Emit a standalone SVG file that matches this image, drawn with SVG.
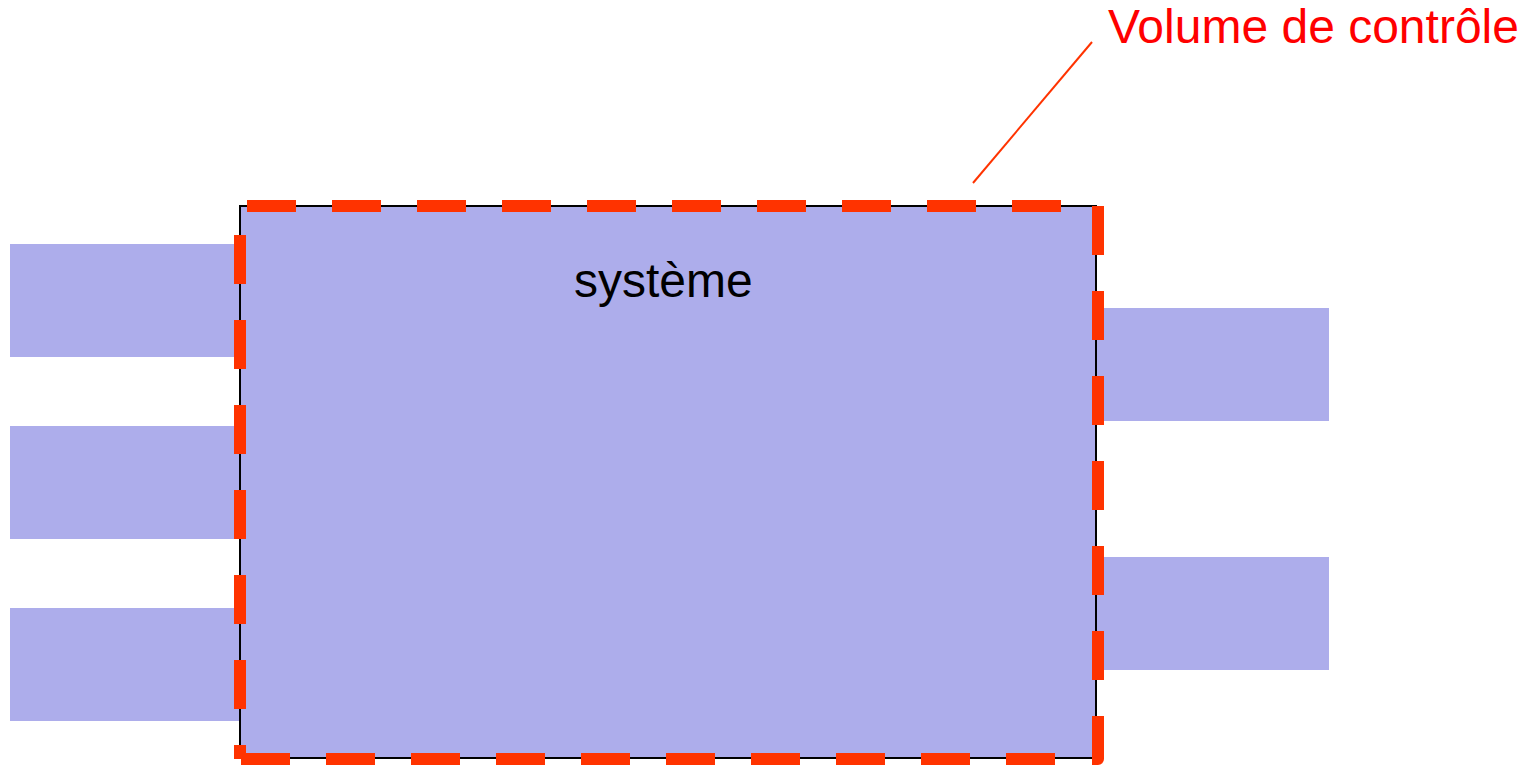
<svg xmlns="http://www.w3.org/2000/svg" width="1539" height="766" viewBox="0 0 1539 766">
  <style>
    .fluid { fill: #ADADEB; }
    .cv { fill: none; stroke: #FF3300; stroke-width: 12; stroke-dasharray: 49 36; stroke-linejoin: round; }
    .label { font-family: "Liberation Sans", Arial, sans-serif; font-size: 48px; }
  </style>
  <rect width="1539" height="766" fill="#FFFFFF"/>

  <!-- inlet pipes -->
  <g id="inlet-1"><rect class="fluid" x="10" y="244" width="232" height="113"/></g>
  <g id="inlet-2"><rect class="fluid" x="10" y="426" width="232" height="113"/></g>
  <g id="inlet-3"><rect class="fluid" x="10" y="608" width="232" height="113"/></g>

  <!-- outlet pipes -->
  <g id="outlet-1"><rect class="fluid" x="1094" y="308" width="235" height="113"/></g>
  <g id="outlet-2"><rect class="fluid" x="1094" y="557" width="235" height="113"/></g>

  <!-- the system -->
  <g id="systeme">
    <rect class="fluid" x="240" y="206" width="856" height="552" stroke="#000000" stroke-width="2"/>
    <text class="label" x="574" y="297" fill="#000000">système</text>
  </g>

  <!-- control volume boundary -->
  <g id="volume-de-controle">
    <path class="cv" d="M247 206 H1062"/>
    <path class="cv" d="M1098 206 V759 H1091"/>
    <path class="cv" d="M241 759 H1055"/>
    <path class="cv" d="M240 235 V759"/>
  </g>

  <!-- leader line to the label -->
  <g id="connectors">
    <line x1="1092" y1="42" x2="973" y2="183" stroke="#FF3300" stroke-width="2"/>
  </g>

  <g id="label-volume">
    <text class="label" x="1108" y="43" fill="#FF0000">Volume de contrôle</text>
  </g>
</svg>
